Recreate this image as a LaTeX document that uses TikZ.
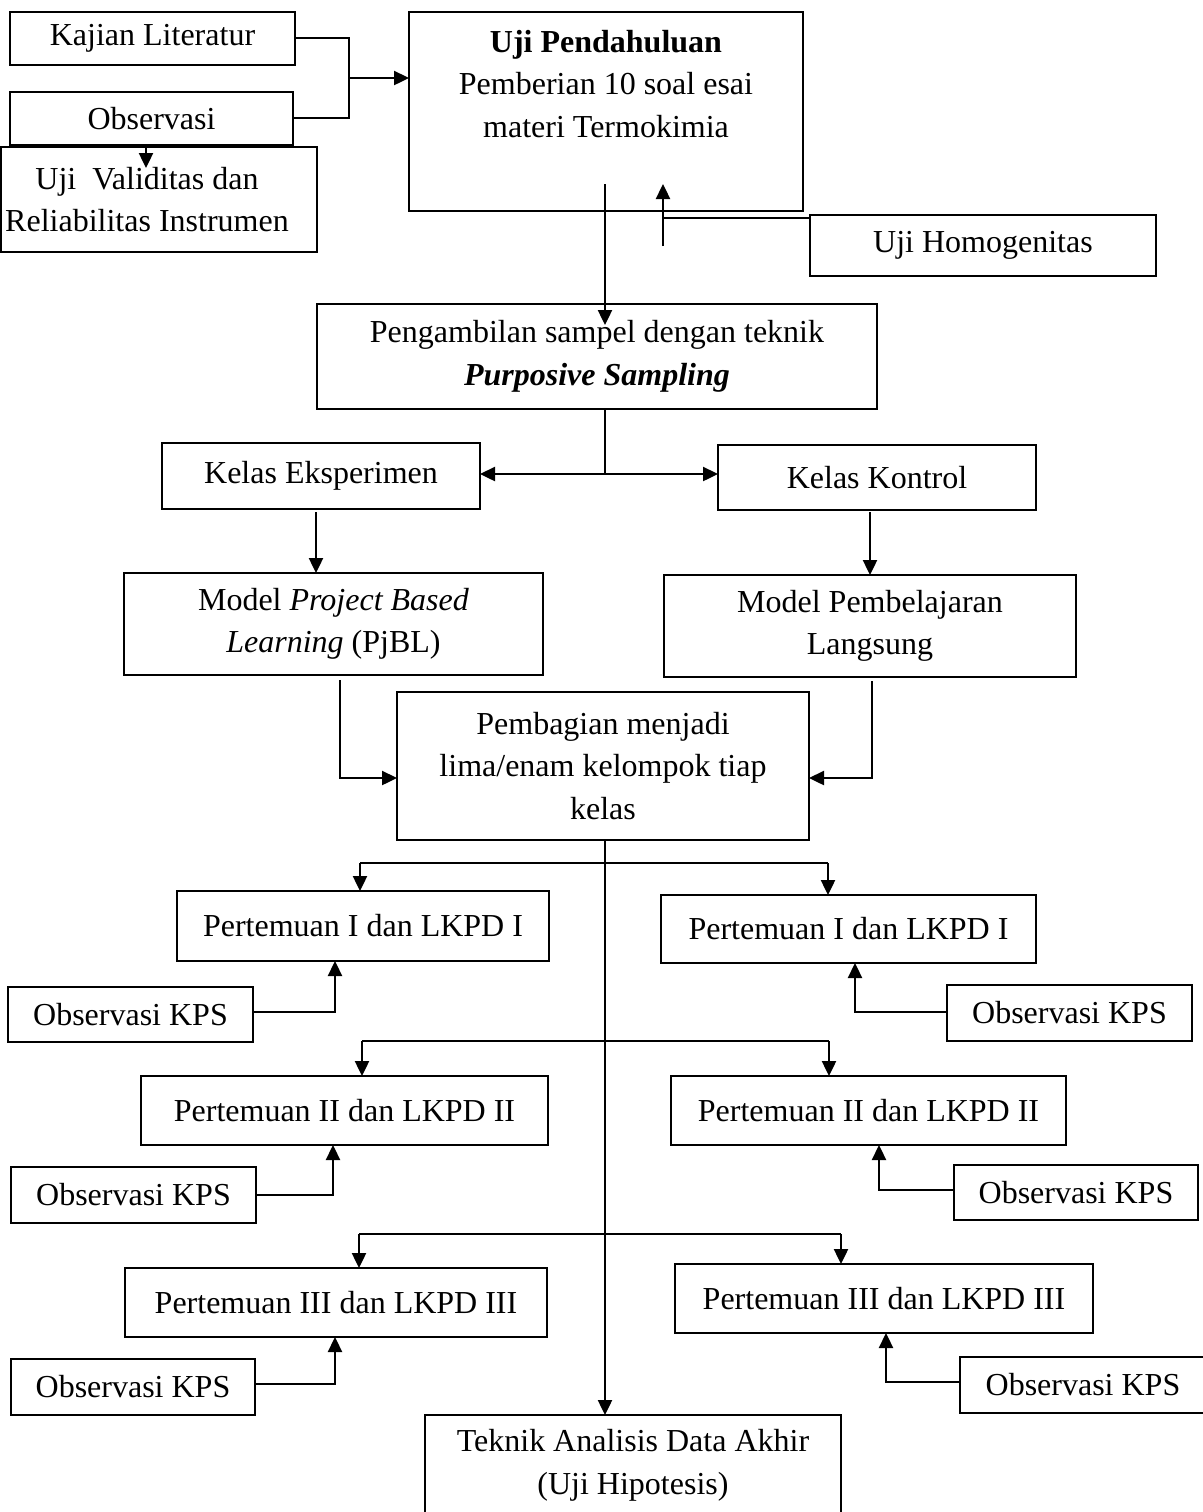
\documentclass[tikz,border=0pt]{standalone}
\usepackage{fontspec}
\setmainfont{Liberation Serif}
\usetikzlibrary{arrows.meta}
\tikzset{
  box/.style={draw, line width=0.7pt, inner sep=0pt, outer sep=0pt, align=center,
    font=\fontsize{16}{21.25}\selectfont},
  txt/.style={inner sep=0pt, align=center, font=\fontsize{16}{21.25}\selectfont},
  conn/.style={line width=1.2pt},
  arr/.style={line width=1.2pt, -{Triangle[length=7.5pt,width=7pt]}}
}
\newcommand\bx[6]{\node[box, minimum width={(#4-#2)*0.5pt}, minimum height={(#5-#3)*0.5pt}] (#1) at ({(#2+#4)/2},{(#3+#5)/2}) {#6};}
\begin{document}
\begin{tikzpicture}[x=0.5pt,y=-0.5pt]
\useasboundingbox (0,0) rectangle (1203,1512);
% boxes
\bx{kl}{10}{12}{295}{65}{Kajian Literatur}
\bx{ob}{10}{92}{293}{145}{Observasi}
\bx{uv}{1}{147}{317}{252}{Uji\ \ Validitas dan\hspace*{12pt}\\Reliabilitas Instrumen\hspace*{12pt}}
\bx{up}{409}{12}{803}{211}{}
\node[txt] (upt) at (606,84) {\textbf{Uji Pendahuluan}\\Pemberian 10 soal esai\\materi Termokimia};
\bx{hg}{810}{215}{1156}{276}{Uji Homogenitas}
\bx{pg}{317}{304}{877}{409}{Pengambilan sampel dengan teknik\\\textbf{\textit{Purposive Sampling}}}
\bx{ke}{162}{443}{480}{509}{Kelas Eksperimen}
\bx{kk}{718}{445}{1036}{510}{Kelas Kontrol}
\bx{pj}{124}{573}{543}{675}{Model \textit{Project Based}\\\textit{Learning} (PjBL)}
\bx{ml}{664}{575}{1076}{677}{Model Pembelajaran\\Langsung}
\bx{pb}{397}{692}{809}{840}{Pembagian menjadi\\lima/enam kelompok tiap\\kelas}
\bx{p1L}{177}{891}{549}{961}{Pertemuan I dan LKPD I}
\bx{p1R}{661}{895}{1036}{963}{Pertemuan I dan LKPD I}
\bx{o1L}{8}{987}{253}{1042}{Observasi KPS}
\bx{o1R}{947}{985}{1192}{1041}{Observasi KPS}
\bx{p2L}{141}{1076}{548}{1145}{Pertemuan II dan LKPD II}
\bx{p2R}{671}{1076}{1066}{1145}{Pertemuan II dan LKPD II}
\bx{o2L}{11}{1167}{256}{1223}{Observasi KPS}
\bx{o2R}{954}{1165}{1198}{1220}{Observasi KPS}
\bx{p3L}{125}{1268}{547}{1337}{Pertemuan III dan LKPD III}
\bx{p3R}{675}{1264}{1093}{1333}{Pertemuan III dan LKPD III}
\bx{o3L}{11}{1359}{255}{1415}{Observasi KPS}
\bx{o3R}{960}{1357}{1206}{1413}{Observasi KPS}
\bx{tk}{425}{1415}{841}{1516}{Teknik Analisis Data Akhir\\(Uji Hipotesis)}
% coordinates
\coordinate (m) at (349,78);
\coordinate (v) at (146,168);
\coordinate (u1) at (605,184);
\coordinate (u2) at (605,325);
\coordinate (h1) at (663,246);
\coordinate (h2) at (663,184);
\coordinate (h3) at (663,218);
\coordinate (s) at (605,474);
\coordinate (e1) at (316,512);
\coordinate (c1) at (870,512);
\coordinate (j1) at (340,680);
\coordinate (j2) at (340,778);
\coordinate (l1) at (872,681);
\coordinate (l2) at (872,778);
\coordinate (sp) at (605,0);
\coordinate (b1L) at (360,863);
\coordinate (b1R) at (828,863);
\coordinate (b2L) at (362,1041);
\coordinate (b2R) at (829,1041);
\coordinate (b3L) at (359,1234);
\coordinate (b3R) at (841,1234);
\coordinate (k1L) at (335,1012);
\coordinate (k1R) at (855,1012);
\coordinate (k2L) at (333,1195);
\coordinate (k2R) at (879,1190);
\coordinate (k3L) at (335,1384);
\coordinate (k3R) at (886,1382);
% connectors
\draw[conn] (kl.east |- 0,38) -| (m);
\draw[conn] (ob.east |- 0,118) -| (m);
\draw[arr] (m) -- (m -| up.west);
\draw[arr] (v |- ob.south) -- (v);
\draw[arr] (u1) -- (u2);
\draw[conn] (h3 -| hg.west) -- (h3);
\draw[arr] (h1) -- (h2);
\draw[conn] (s |- pg.south) -- (s);
\draw[arr] (s) -- (s -| ke.east);
\draw[arr] (s) -- (s -| kk.west);
\draw[arr] (e1) -- (e1 |- pj.north);
\draw[arr] (c1) -- (c1 |- ml.north);
\draw[arr] (j1) -- (j2) -- (j2 -| pb.west);
\draw[arr] (l1) -- (l2) -- (l2 -| pb.east);
\draw[arr] (sp |- pb.south) -- (sp |- tk.north);
\draw[conn] (b1L) -- (b1R);
\draw[arr] (b1L) -- (b1L |- p1L.north);
\draw[arr] (b1R) -- (b1R |- p1R.north);
\draw[conn] (b2L) -- (b2R);
\draw[arr] (b2L) -- (b2L |- p2L.north);
\draw[arr] (b2R) -- (b2R |- p2R.north);
\draw[conn] (b3L) -- (b3R);
\draw[arr] (b3L) -- (b3L |- p3L.north);
\draw[arr] (b3R) -- (b3R |- p3R.north);
\draw[arr] (k1L -| o1L.east) -- (k1L) -- (k1L |- p1L.south);
\draw[arr] (k1R -| o1R.west) -- (k1R) -- (k1R |- p1R.south);
\draw[arr] (k2L -| o2L.east) -- (k2L) -- (k2L |- p2L.south);
\draw[arr] (k2R -| o2R.west) -- (k2R) -- (k2R |- p2R.south);
\draw[arr] (k3L -| o3L.east) -- (k3L) -- (k3L |- p3L.south);
\draw[arr] (k3R -| o3R.west) -- (k3R) -- (k3R |- p3R.south);
\end{tikzpicture}
\end{document}
